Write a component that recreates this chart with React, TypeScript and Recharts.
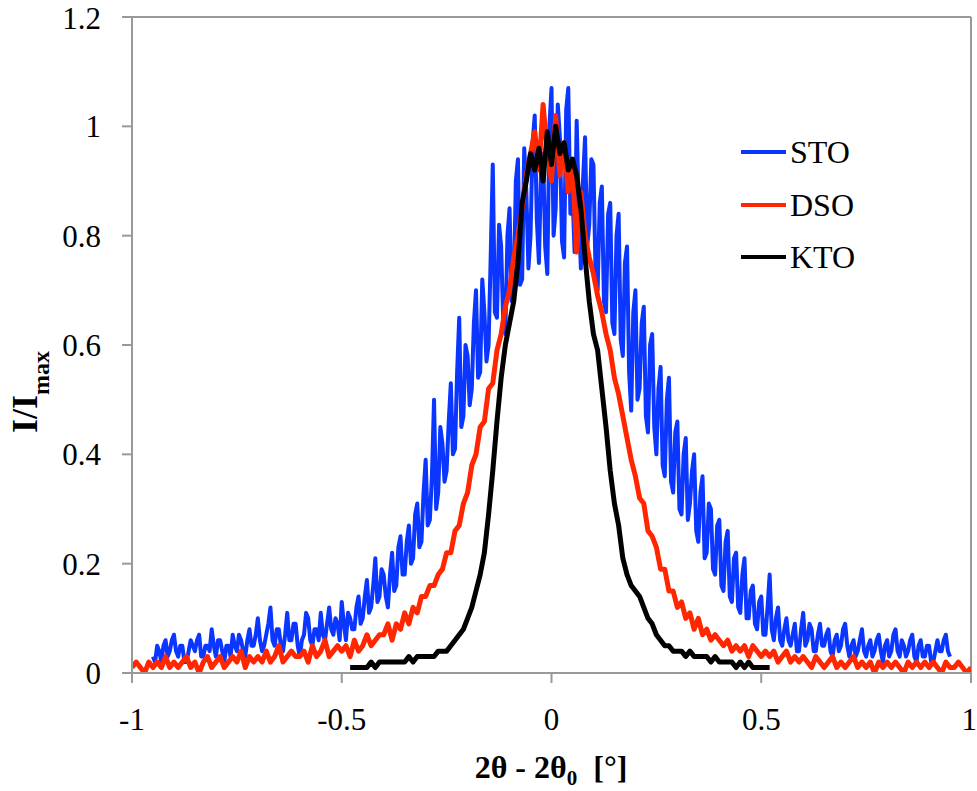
import React from 'react';
import { LineChart, Line, XAxis, YAxis, ReferenceLine, Label } from 'recharts';

// sampling grid of the scans, in degrees
const STO_START = -0.95;
const STO_STEP = 0.005;
const DSO_START = -1.0;
const DSO_STEP = 0.01;
const KTO_START = -0.48;
const KTO_STEP = 0.01;

const X_TICKS = [-1, -0.5, 0, 0.5, 1];
const Y_TICKS = [0, 0.2, 0.4, 0.6, 0.8, 1, 1.2];

// I/Imax
const STO = [
  0.03, 0.02, 0.05, 0.04, 0.02, 0.05, 0.06, 0.03, 0.04, 0.06, 0.07, 0.04, 0.03, 0.05, 0.05, 0.02, 0.02, 0.04, 0.06, 0.05,
  0.04, 0.06, 0.07, 0.03, 0.03, 0.05, 0.05, 0.04, 0.08, 0.05, 0.03, 0.06, 0.06, 0.04, 0.02, 0.05, 0.05, 0.03, 0.07, 0.05,
  0.04, 0.07, 0.06, 0.04, 0.03, 0.06, 0.08, 0.05, 0.05, 0.07, 0.10, 0.06, 0.04, 0.05, 0.07, 0.09, 0.12, 0.06, 0.05, 0.08,
  0.08, 0.05, 0.04, 0.07, 0.11, 0.06, 0.06, 0.09, 0.09, 0.05, 0.03, 0.06, 0.07, 0.11, 0.10, 0.06, 0.05, 0.08, 0.08, 0.06,
  0.11, 0.07, 0.06, 0.09, 0.12, 0.08, 0.07, 0.10, 0.09, 0.06, 0.13, 0.09, 0.06, 0.11, 0.10, 0.08, 0.08, 0.12, 0.14, 0.09,
  0.10, 0.14, 0.17, 0.11, 0.12, 0.16, 0.21, 0.13, 0.14, 0.19, 0.18, 0.14, 0.12, 0.18, 0.22, 0.15, 0.16, 0.23, 0.25, 0.18,
  0.18, 0.24, 0.27, 0.20, 0.21, 0.29, 0.31, 0.23, 0.24, 0.33, 0.39, 0.27, 0.28, 0.36, 0.50, 0.30, 0.33, 0.45, 0.42, 0.35,
  0.37, 0.46, 0.53, 0.40, 0.41, 0.55, 0.65, 0.45, 0.47, 0.60, 0.58, 0.49, 0.52, 0.64, 0.70, 0.54, 0.55, 0.72, 0.66, 0.57,
  0.60, 0.76, 0.93, 0.66, 0.65, 0.82, 0.78, 0.64, 0.62, 0.80, 0.85, 0.68, 0.70, 0.90, 0.94, 0.71, 0.72, 0.96, 0.88, 0.74,
  0.80, 0.97, 1.02, 0.83, 0.75, 0.92, 0.95, 0.78, 0.73, 1.00, 1.07, 0.80, 0.85, 1.04, 0.98, 0.79, 0.76, 1.03, 1.07, 0.84,
  0.88, 0.77, 1.01, 0.85, 0.74, 0.90, 0.98, 0.78, 0.82, 0.94, 0.93, 0.73, 0.70, 0.86, 0.89, 0.68, 0.66, 0.84, 0.86, 0.64,
  0.62, 0.80, 0.84, 0.61, 0.58, 0.75, 0.78, 0.55, 0.48, 0.66, 0.70, 0.50, 0.52, 0.64, 0.67, 0.47, 0.44, 0.60, 0.62, 0.45,
  0.40, 0.52, 0.56, 0.38, 0.36, 0.50, 0.54, 0.35, 0.33, 0.44, 0.46, 0.30, 0.29, 0.40, 0.43, 0.28, 0.31, 0.37, 0.40, 0.26,
  0.24, 0.33, 0.36, 0.21, 0.22, 0.31, 0.30, 0.19, 0.18, 0.27, 0.28, 0.16, 0.15, 0.24, 0.26, 0.14, 0.13, 0.21, 0.22, 0.12,
  0.11, 0.18, 0.21, 0.10, 0.10, 0.15, 0.16, 0.09, 0.08, 0.13, 0.14, 0.07, 0.07, 0.12, 0.18, 0.08, 0.06, 0.10, 0.12, 0.06,
  0.05, 0.08, 0.10, 0.06, 0.05, 0.07, 0.09, 0.04, 0.04, 0.08, 0.11, 0.05, 0.06, 0.09, 0.08, 0.04, 0.04, 0.07, 0.09, 0.05,
  0.05, 0.07, 0.08, 0.04, 0.03, 0.06, 0.07, 0.04, 0.05, 0.08, 0.09, 0.05, 0.03, 0.05, 0.06, 0.03, 0.04, 0.06, 0.08, 0.04,
  0.03, 0.05, 0.06, 0.03, 0.04, 0.06, 0.07, 0.04, 0.02, 0.05, 0.06, 0.03, 0.04, 0.07, 0.08, 0.04, 0.03, 0.06, 0.05, 0.03,
  0.04, 0.06, 0.07, 0.03, 0.02, 0.05, 0.06, 0.03, 0.03, 0.05, 0.05, 0.02, 0.02, 0.04, 0.06, 0.04, 0.04, 0.06, 0.07, 0.04,
  0.03,
];

const DSO = [
  0.01, 0.02, 0.01, 0.00, 0.02, 0.01, 0.02, 0.01, 0.03, 0.01,
  0.02, 0.01, 0.02, 0.03, 0.01, 0.02, 0.00, 0.02, 0.03, 0.01,
  0.02, 0.03, 0.01, 0.02, 0.03, 0.02, 0.04, 0.01, 0.03, 0.02,
  0.03, 0.02, 0.04, 0.02, 0.03, 0.05, 0.02, 0.03, 0.04, 0.03,
  0.03, 0.04, 0.02, 0.05, 0.03, 0.04, 0.06, 0.03, 0.04, 0.05,
  0.04, 0.05, 0.03, 0.06, 0.04, 0.05, 0.07, 0.05, 0.06, 0.07,
  0.07, 0.09, 0.06, 0.09, 0.08, 0.11, 0.09, 0.12, 0.11, 0.14,
  0.14, 0.16, 0.16, 0.18, 0.19, 0.22, 0.22, 0.26, 0.27, 0.31,
  0.33, 0.38, 0.40, 0.45, 0.46, 0.52, 0.53, 0.59, 0.62, 0.67,
  0.70, 0.76, 0.80, 0.85, 0.91, 0.95, 0.99, 0.92, 1.04, 0.95,
  0.90, 1.02, 0.91, 0.97, 0.88, 0.93, 0.77, 0.88, 0.80, 0.76,
  0.73, 0.69, 0.66, 0.62, 0.59, 0.54, 0.51, 0.47, 0.43, 0.39,
  0.36, 0.32, 0.31, 0.26, 0.25, 0.23, 0.19, 0.19, 0.15, 0.15,
  0.12, 0.13, 0.10, 0.11, 0.08, 0.10, 0.07, 0.08, 0.06, 0.07,
  0.06, 0.05, 0.06, 0.04, 0.05, 0.04, 0.05, 0.03, 0.05, 0.04,
  0.03, 0.04, 0.03, 0.04, 0.02, 0.03, 0.04, 0.02, 0.03, 0.02,
  0.03, 0.02, 0.01, 0.03, 0.02, 0.01, 0.02, 0.03, 0.01, 0.02,
  0.01, 0.02, 0.03, 0.01, 0.02, 0.01, 0.02, 0.00, 0.02, 0.01,
  0.02, 0.01, 0.02, 0.01, 0.00, 0.02, 0.01, 0.02, 0.01, 0.02,
  0.01, 0.02, 0.01, 0.00, 0.02, 0.01, 0.01, 0.02, 0.01, 0.00,
  0.01,
];

const KTO = [
  0.01, 0.01, 0.01, 0.01, 0.01, 0.02, 0.01, 0.02, 0.02, 0.02,
  0.02, 0.02, 0.02, 0.02, 0.03, 0.02, 0.03, 0.03, 0.03, 0.03,
  0.03, 0.04, 0.04, 0.04, 0.05, 0.06, 0.07, 0.08, 0.10, 0.12,
  0.15, 0.18, 0.22, 0.29, 0.37, 0.46, 0.54, 0.60, 0.64, 0.68,
  0.75, 0.86, 0.90, 0.95, 0.92, 0.96, 0.90, 0.99, 0.93, 1.00,
  0.95, 0.97, 0.92, 0.94, 0.91, 0.85, 0.76, 0.68, 0.62, 0.59,
  0.52, 0.45, 0.37, 0.31, 0.27, 0.21, 0.18, 0.16, 0.15, 0.14,
  0.12, 0.10, 0.09, 0.07, 0.06, 0.05, 0.05, 0.04, 0.04, 0.04,
  0.03, 0.04, 0.03, 0.03, 0.03, 0.03, 0.02, 0.03, 0.02, 0.02,
  0.02, 0.02, 0.01, 0.02, 0.01, 0.02, 0.01, 0.01, 0.01, 0.01,
  0.01,
];

const SERIES = [
  { name: 'STO', color: '#0a36ff', start: STO_START, step: STO_STEP, values: STO, width: 4 },
  { name: 'DSO', color: '#ff2600', start: DSO_START, step: DSO_STEP, values: DSO, width: 5 },
  { name: 'KTO', color: '#000000', start: KTO_START, step: KTO_STEP, values: KTO, width: 5 },
];

const FONT = '"Liberation Serif", "Times New Roman", serif';
const AXIS = '#999999';

function toPoints(start: number, step: number, values: number[]) {
  return values.map((y, i) => ({ x: +(start + i * step).toFixed(3), y }));
}

const XTitle = () => (
  <text x={551} y={778} textAnchor="middle" fontFamily={FONT} fontWeight="bold" fontSize={32} fill="#000">
    2θ - 2θ
    <tspan fontSize={21} dy={7}>0</tspan>
    <tspan dy={-7}>{'\u00a0\u00a0[°]'}</tspan>
  </text>
);

const YTitle = () => (
  <text
    transform="rotate(-90)"
    x={-392}
    y={37}
    textAnchor="middle"
    fontFamily={FONT}
    fontWeight="bold"
    fontSize={36}
    fill="#000"
  >
    I/I
    <tspan fontSize={24} dy={12}>max</tspan>
  </text>
);

export default function App() {
  return (
    <div style={{ position: 'absolute', left: 0, top: 0, width: 977, height: 791, background: '#fff' }}>
      <LineChart width={977} height={791} margin={{ top: 17, right: 6, bottom: 0, left: 0 }}>
        <XAxis
          type="number"
          dataKey="x"
          domain={[-1, 1]}
          ticks={X_TICKS}
          height={118}
          stroke={AXIS}
          axisLine={{ stroke: AXIS, strokeWidth: 2 }}
          tickLine={{ stroke: AXIS, strokeWidth: 2 }}
          tickSize={10}
          tickMargin={25}
          tick={{ fill: '#000', fontSize: 31, fontFamily: FONT }}
          allowDataOverflow
        >
          <Label content={XTitle} />
        </XAxis>
        <YAxis
          type="number"
          domain={[0, 1.2]}
          ticks={Y_TICKS}
          width={132}
          stroke={AXIS}
          axisLine={{ stroke: AXIS, strokeWidth: 2 }}
          tickLine={{ stroke: AXIS, strokeWidth: 2 }}
          tickSize={10}
          tickMargin={21}
          tick={{ fill: '#000', fontSize: 31, fontFamily: FONT }}
          allowDataOverflow
        >
          <Label content={YTitle} />
        </YAxis>
        <ReferenceLine y={1.2} stroke={AXIS} strokeWidth={2} />
        <ReferenceLine x={1} stroke={AXIS} strokeWidth={2} />
        {SERIES.map(s => (
          <Line
            key={s.name}
            data={toPoints(s.start, s.step, s.values)}
            dataKey="y"
            name={s.name}
            type="linear"
            stroke={s.color}
            strokeWidth={s.width}
            strokeLinejoin="round"
            dot={false}
            activeDot={false}
            isAnimationActive={false}
          />
        ))}
      </LineChart>
      <div style={{ position: 'absolute', left: 741, top: 126, fontFamily: FONT, fontSize: 32, color: '#000' }}>
        {SERIES.map(s => (
          <div key={s.name} style={{ display: 'flex', alignItems: 'center', height: 52.5 }}>
            <div style={{ width: 45, height: 4, background: s.color, marginRight: 4 }} />
            <span style={{ lineHeight: '32px' }}>{s.name}</span>
          </div>
        ))}
      </div>
    </div>
  );
}
